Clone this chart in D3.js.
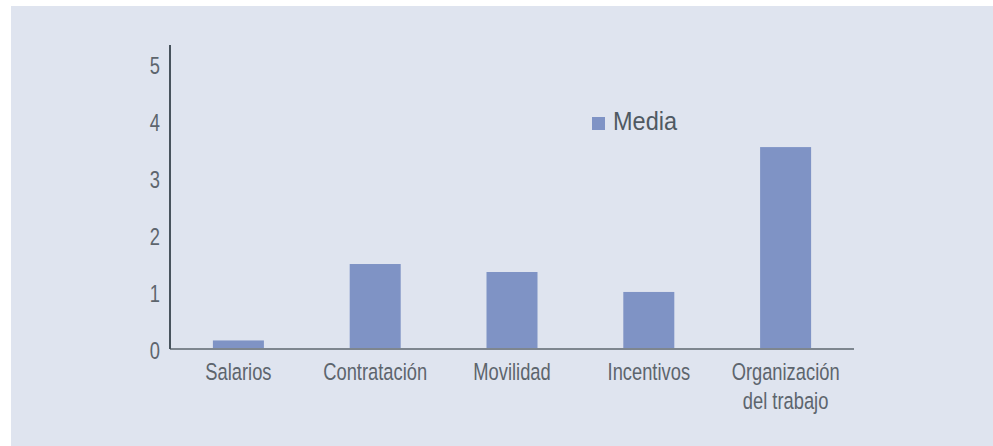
<!DOCTYPE html>
<html>
<head>
<meta charset="utf-8">
<script src="https://cdn.jsdelivr.net/npm/d3@7/dist/d3.min.js"></script>
<style>
  html, body { margin: 0; padding: 0; background: #ffffff; }
  svg { display: block; }
  text { font-family: "Liberation Sans", Arial, sans-serif; }
</style>
</head>
<body>
<svg id="chart" width="993" height="446"></svg>
<script>
// Mean score per area
const categories = ["Salarios", "Contratación", "Movilidad", "Incentivos", "Organización\ndel trabajo"];
const values = [0.15, 1.49, 1.35, 1.0, 3.54];
const yTicks = [0, 1, 2, 3, 4, 5];
const seriesName = "Media";

const svg = d3.select("#chart");
const W = 993, H = 446;
const narrow = 0.78;   // horizontal squeeze for a condensed look
const labelSize = "23.5px";

// panel background
svg.append("rect")
  .attr("x", 11).attr("y", 6)
  .attr("width", W - 11).attr("height", H - 6)
  .attr("fill", "#dfe4ef");

const plot = { left: 170, right: 854, top: 45, bottom: 349 };

const x = d3.scaleBand()
  .domain(categories)
  .range([plot.left, plot.right])
  .paddingInner(0).paddingOuter(0);

const y = d3.scaleLinear()
  .domain([0, 5.33])
  .range([plot.bottom, plot.top]);

const barW = 51;
const barColor = "#7f93c5";
const textColor = "#5d656d";

// bars
svg.append("g").selectAll("rect")
  .data(values)
  .join("rect")
  .attr("x", (d, i) => x(categories[i]) + x.bandwidth() / 2 - barW / 2)
  .attr("y", d => y(d))
  .attr("width", barW)
  .attr("height", d => y(0) - y(d))
  .attr("fill", barColor);

// category baseline
svg.append("line")
  .attr("x1", plot.left).attr("x2", plot.right)
  .attr("y1", y(0)).attr("y2", y(0))
  .attr("stroke", "#7e868f").attr("stroke-width", 2);

// value axis
const yAxis = svg.append("g")
  .attr("transform", `translate(${plot.left},0)`)
  .call(d3.axisLeft(y).tickValues(yTicks).tickSize(0).tickPadding(10).tickFormat(d3.format("d")));
yAxis.select(".domain")
  .attr("d", `M0,${plot.top}V${plot.bottom}`)
  .attr("stroke", "#48535d").attr("stroke-width", 2);
yAxis.selectAll(".tick text")
  .attr("fill", textColor)
  .style("font-size", labelSize)
  .attr("x", 0)
  .attr("dy", "0.36em")
  .attr("transform", `translate(-10,1) scale(${narrow},1)`);

// category labels, split on line breaks
const xLabels = svg.append("g").selectAll("text")
  .data(categories)
  .join("text")
  .attr("transform", d => `translate(${x(d) + x.bandwidth() / 2},380) scale(${narrow},1)`)
  .attr("text-anchor", "middle")
  .attr("fill", textColor)
  .style("font-size", labelSize);
xLabels.each(function(d) {
  const t = d3.select(this);
  d.split("\n").forEach((line, k) => {
    t.append("tspan")
      .attr("x", 0)
      .attr("dy", k === 0 ? 0 : 29)
      .text(line);
  });
});

// legend
const legend = svg.append("g").attr("transform", "translate(592,117)");
legend.append("rect")
  .attr("width", 13).attr("height", 13)
  .attr("fill", barColor);
legend.append("text")
  .attr("transform", "translate(21,12.5) scale(0.94,1)")
  .attr("fill", "#4f5962")
  .style("font-size", "25px")
  .text(seriesName);
</script>
</body>
</html>
